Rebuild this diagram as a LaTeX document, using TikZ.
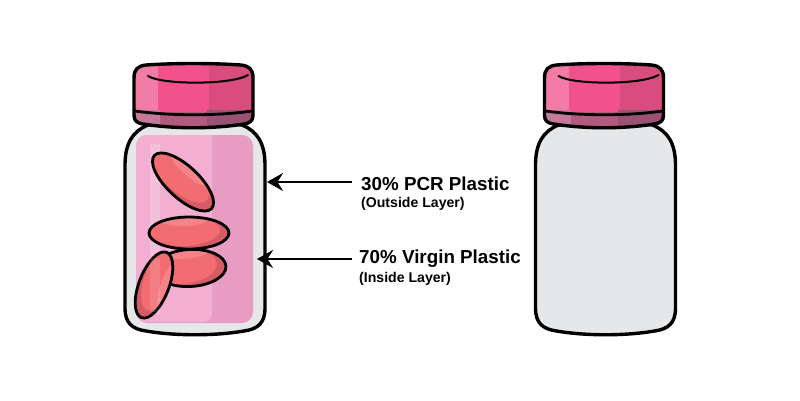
\documentclass[tikz,border=0pt]{standalone}
\usepackage{fontspec}
\setmainfont{Liberation Sans}
\usetikzlibrary{arrows.meta}
\definecolor{capA}{HTML}{F27CA6}
\definecolor{capB}{HTML}{F2528C}
\definecolor{capC}{HTML}{D94C7E}
\definecolor{bandA}{HTML}{C4789A}
\definecolor{bandB}{HTML}{B25A80}
\definecolor{bandC}{HTML}{9A5274}
\definecolor{shell}{HTML}{E6E7E8}
\definecolor{fillA}{HTML}{F2AFD2}
\definecolor{fillB}{HTML}{E89CC4}
\definecolor{pillbase}{HTML}{F26D72}
\definecolor{pilldark}{HTML}{D55C66}
\definecolor{pilllight}{HTML}{F58488}
\tikzset{
  x=1pt,y=-1pt,
  outline/.style={draw=black,line width=3.4pt,line join=round},
  thinline/.style={draw=black,line width=2pt,line cap=round},
  callout/.style={draw=black,line width=2pt,-{Stealth[length=16pt,width=18pt,inset=5.5pt]}},
  headline/.style={anchor=west,inner sep=0pt,font=\bfseries\fontsize{18.8}{21}\selectfont},
  subline/.style={anchor=west,inner sep=0pt,font=\bfseries\fontsize{14.1}{15}\selectfont},
  pics/lid/.style={code={
    % screw cap: three vertical tones over a darker skirt
    \begin{scope}
      \clip (134,78) .. controls (134,69) and (138,66) .. (146,65)
        .. controls (175,63) and (212,63) .. (241,65)
        .. controls (249,66) and (253,69) .. (253,78)
        -- (253,115) .. controls (253,121) and (250,123) .. (244,124)
        .. controls (212,129) and (175,129) .. (143,124)
        .. controls (137,123) and (134,121) .. (134,115) -- cycle;
      \fill[capA] (130,60) rectangle (158,115);
      \fill[capB] (158,60) rectangle (209,118);
      \fill[capC] (209,60) rectangle (258,115);
      \fill[bandA] (130,110) rectangle (160,132);
      \fill[bandB] (160,112) rectangle (207,132);
      \fill[bandC] (207,110) rectangle (258,132);
    \end{scope}
    \path[outline] (134,78) .. controls (134,69) and (138,66) .. (146,65)
      .. controls (175,63) and (212,63) .. (241,65)
      .. controls (249,66) and (253,69) .. (253,78)
      -- (253,115) .. controls (253,121) and (250,123) .. (244,124)
      .. controls (212,129) and (175,129) .. (143,124)
      .. controls (137,123) and (134,121) .. (134,115) -- cycle;
    \path[outline,line width=2.8pt] (135,111) .. controls (170,116) and (218,116) .. (252,111);
    \path[thinline] (148,76) .. controls (162,85) and (232,85) .. (248,75);
  }},
  pics/tablet/.style n args={3}{code={
    % one tablet, drawn lying along its local x axis
    \begin{scope}[rotate=#1]
      \begin{scope}
        \clip (0,0) ellipse [x radius=#2,y radius=#3];
        \fill[pilldark] (-50,-30) rectangle (50,30);
        \fill[pillbase] (-9,-3) ellipse [x radius=#2,y radius=#3];
        \fill[pilllight] (-6,{-#3+1}) ellipse [x radius=26,y radius=8];
      \end{scope}
      \draw[black,line width=2.8pt] (0,0) ellipse [x radius=#2,y radius=#3];
    \end{scope}
  }},
}
\begin{document}
\begin{tikzpicture}
\useasboundingbox (0,0) rectangle (800,400);
\fill[white] (0,0) rectangle (800,400);

% filled bottle
\path[outline,fill=shell] (125,165) .. controls (125,143) and (133,131) .. (148,125)
  .. controls (175,120) and (215,120) .. (242,125)
  .. controls (257,131) and (265,143) .. (265,165)
  -- (265,308) .. controls (265,323) and (258,329) .. (244,331)
  .. controls (215,336) and (175,336) .. (146,331)
  .. controls (132,329) and (125,323) .. (125,308) -- cycle;
\begin{scope}
  \clip[rounded corners=11pt] (136,135) rectangle (253,323);
  \fill[fillB] (130,130) rectangle (258,330);
  \fill[fillA,rounded corners=8pt] (130,130) rectangle (212,322);
  \fill[white,opacity=.2] (150,144) rectangle (160,314);
\end{scope}
\pic at (183,182) {tablet={-43}{39}{16}};
\pic at (189,233) {tablet={0}{40}{16}};
\pic at (190,268) {tablet={3}{36}{18.5}};
\pic at (154,285) {tablet={-111}{35}{15}};
\fill[white,opacity=.12] (150,258) rectangle (160,312);
\pic {lid};

% empty bottle
\begin{scope}[xshift=410.5pt]
  \path[outline,fill=shell] (125,165) .. controls (125,143) and (133,131) .. (148,125)
    .. controls (175,120) and (215,120) .. (242,125)
    .. controls (257,131) and (265,143) .. (265,165)
    -- (265,308) .. controls (265,323) and (258,329) .. (244,331)
    .. controls (215,336) and (175,336) .. (146,331)
    .. controls (132,329) and (125,323) .. (125,308) -- cycle;
  \pic {lid};
\end{scope}

% layer labels and their callouts
\node[headline] (outer) at (361,184) {30\% PCR Plastic};
\node[subline] (outersub) at (361,204) {(Outside Layer)};
\node[headline] (inner) at (359,259) {70\% Virgin Plastic};
\node[subline] (innersub) at (359,279) {(Inside Layer)};
\coordinate (outertip) at (267,182);
\coordinate (innertip) at (257,259);
\coordinate (outerstart) at (352,182);
\coordinate (innerstart) at (352,259);
\draw[callout] (outerstart) -- (outertip);
\draw[callout] (innerstart) -- (innertip);
\end{tikzpicture}
\end{document}
